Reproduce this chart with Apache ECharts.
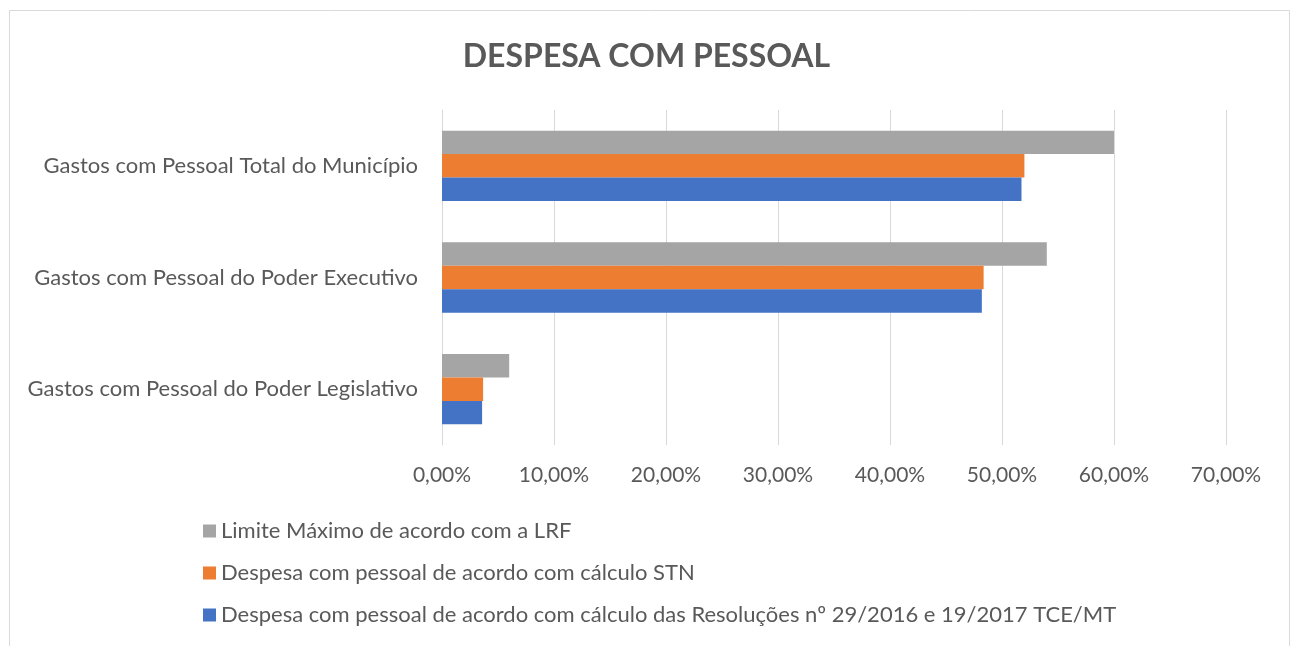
<!DOCTYPE html>
<html>
<head>
<meta charset="utf-8">
<script src="https://cdn.jsdelivr.net/npm/echarts@6/dist/echarts.min.js"></script>
<style>
  html, body { margin: 0; padding: 0; background: #fff; }
  #main { width: 1293px; height: 646px; }
</style>
</head>
<body>
<div id="main"></div>
<script>
// categorias (de baixo para cima, como no eixo do echarts)
const categories = [
  'Gastos com Pessoal do Poder Legislativo',
  'Gastos com Pessoal do Poder Executivo',
  'Gastos com Pessoal Total do Município'
];
const seriesNames = [
  'Limite Máximo de acordo com a LRF',
  'Despesa com pessoal de acordo com cálculo STN',
  'Despesa com pessoal de acordo com cálculo das Resoluções nº 29/2016 e 19/2017 TCE/MT'
];
const limiteLRF = [6, 54, 60];
const despesaSTN = [3.67, 48.36, 52.0];
const despesaTCE = [3.58, 48.2, 51.74];
const colors = ['#A5A5A5', '#ED7D31', '#4472C4'];

const font = 'Lato, "Open Sans", sans-serif';
const txt = '#595959';

const chart = echarts.init(document.getElementById('main'));

const dataList = [limiteLRF, despesaSTN, despesaTCE];
const series = dataList.map((d, i) => ({
  name: seriesNames[i],
  type: 'bar',
  data: d,
  barGap: '0%',
  barCategoryGap: '37%',
  itemStyle: { color: colors[i] },
  animation: false
}));

chart.setOption({
  textStyle: { fontFamily: font },
  title: {
    text: 'DESPESA COM PESSOAL',
    left: 'center',
    top: 36,
    textStyle: { fontSize: 32, fontWeight: 'bold', color: txt, fontFamily: font }
  },
  graphic: [{
    type: 'rect',
    shape: { x: 9.5, y: 10.5, width: 1280, height: 700 },
    style: { fill: 'none', stroke: '#D9D9D9', lineWidth: 1 },
    silent: true
  }],
  legend: {
    orient: 'vertical',
    left: 198,
    top: 515,
    itemGap: 20,
    itemWidth: 13,
    itemHeight: 13,
    icon: 'rect',
    textStyle: { fontSize: 22, color: txt, fontFamily: font },
    data: seriesNames
  },
  grid: { left: 442, right: 67, top: 110, bottom: 201 },
  xAxis: {
    type: 'value',
    min: 0,
    max: 70,
    interval: 10,
    axisLine: { show: false },
    axisTick: { show: false },
    splitLine: { lineStyle: { color: '#D9D9D9', width: 1 } },
    axisLabel: {
      margin: 20,
      fontSize: 21,
      color: txt,
      formatter: v => v.toFixed(2).replace('.', ',') + '%'
    }
  },
  yAxis: {
    type: 'category',
    data: categories,
    axisLine: { lineStyle: { color: '#D9D9D9' } },
    axisTick: { show: false },
    axisLabel: { fontSize: 22, color: txt, margin: 24 }
  },
  series: series
});
</script>
</body>
</html>
